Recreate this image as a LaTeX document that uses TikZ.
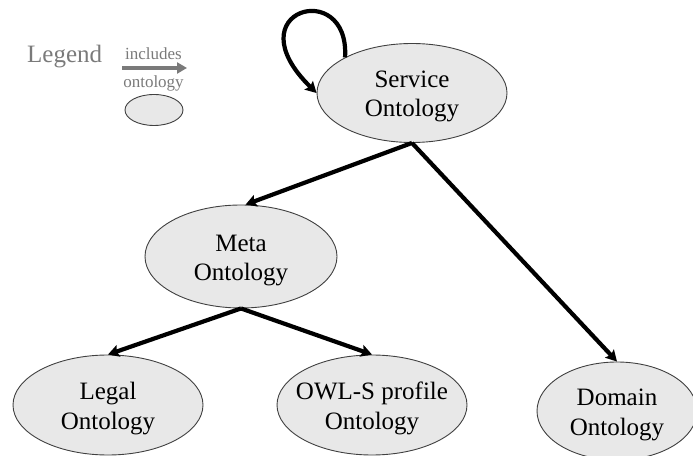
\documentclass[tikz,border=0pt]{standalone}
\usepackage{fontspec}
\setmainfont{Liberation Serif}
\usetikzlibrary{arrows.meta,shapes.geometric}
\definecolor{ovalfill}{HTML}{E8E8E8}
\definecolor{ovalline}{HTML}{404040}
\definecolor{legendgray}{HTML}{7A7A7A}
% two-line label that does not enlarge its oval; #1 lowers it
\newcommand\ontotext[3][-10pt]{\makebox[0pt]{\raisebox{#1}[0pt][0pt]{%
  \begin{tabular}{@{}c@{}}#2\\#3\end{tabular}}}}
\tikzset{
  onto/.style={ellipse, draw=ovalline, line width=0.9pt, fill=ovalfill,
    inner sep=0pt, font=\fontsize{25}{29.5}\selectfont},
  incl/.style={line width=4.2pt,
    -{Stealth[length=11pt,width=12pt,inset=2pt]}},
  legtext/.style={text=legendgray, inner sep=0pt}
}
\begin{document}
\begin{tikzpicture}[x=1pt,y=1pt]
\useasboundingbox (0,0) rectangle (693,455);

% ontology nodes
\node[onto, minimum width=190, minimum height=99] (svc) at (412,362) {\ontotext[-9.5pt]{Service}{Ontology}};
\node[onto, minimum width=192, minimum height=103] (meta) at (241,198.5) {\ontotext{Meta}{Ontology}};
\node[onto, minimum width=190, minimum height=100] (legal) at (108,50) {\ontotext{Legal}{Ontology}};
\node[onto, minimum width=190, minimum height=100] (owl) at (372,50) {\ontotext{OWL-S profile}{Ontology}};
\node[onto, minimum width=160, minimum height=98] (dom) at (617,44) {\ontotext{Domain}{Ontology}};

% inclusion edges
\draw[incl] (svc.south) -- (meta.85);
\draw[incl] (svc.south) -- (dom.north);
\draw[incl] (meta.south) -- (legal.north);
\draw[incl] (meta.south) -- (owl.north);
\draw[incl] (svc.152) .. controls (350,478) and (232,445) .. (svc.west);

% legend
\node[legtext, anchor=base west, font=\fontsize{25}{28}\selectfont] (leg) at (27,392) {Legend};
\node[legtext, anchor=base, font=\fontsize{17}{20}\selectfont] (inc) at (153.5,395) {includes};
\coordinate (la) at (122,387);
\coordinate (lb) at (187,387);
\draw[legendgray, line width=3.4pt, -{Triangle[length=10pt,width=11pt]}] (la) -- (lb);
\node[legtext, anchor=base, font=\fontsize{17}{20}\selectfont] (ont) at (153.5,367) {ontology};
\node[onto, minimum width=58, minimum height=31] (legov) at (154,345) {};
\end{tikzpicture}
\end{document}
